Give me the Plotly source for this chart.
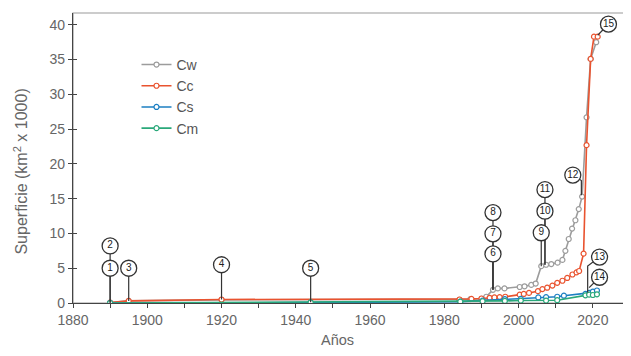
import plotly.graph_objects as go

# ---------------- data ----------------
cw_years = [1890, 1895, 1920, 1984, 1987, 1990.0, 1991.3, 1993.1, 1994.4, 1996.2, 2000.3, 2001.6,
            2003.4, 2004.6, 2006.1, 2007.4, 2008.8, 2010.5, 2011.8, 2012.6, 2013.5, 2014.4,
            2015.3, 2016.2, 2017.1, 2018.3, 2019.4, 2020.9]
cw_values = [0.05, 0.3, 0.45, 0.45, 0.55, 0.6, 0.9, 1.9, 2.1, 2.1, 2.3, 2.4,
             2.6, 2.8, 5.3, 5.5, 5.6, 5.8, 6.2, 7.5, 9.2, 10.7,
             11.9, 13.5, 15.3, 26.7, 35.1, 37.5]

cc_years = [1890, 1895, 1920, 1984.1, 1987.3, 1990.0, 1992.2, 1993.5, 1994.9, 1996.4, 2000.3,
            2001.4, 2002.8, 2005.2, 2006.4, 2007.7, 2009.1, 2010.4, 2011.8, 2013.1, 2014.5,
            2015.6, 2016.3, 2017.5, 2018.3, 2019.4, 2020.3, 2021.3]
cc_values = [0.05, 0.3, 0.5, 0.5, 0.6, 0.65, 0.75, 0.8, 0.85, 0.9, 1.2,
             1.3, 1.45, 1.7, 2.0, 2.2, 2.5, 2.9, 3.2, 3.6, 4.1,
             4.4, 4.6, 7.1, 22.7, 35.1, 38.3, 38.3]

cs_years = [1890, 1944, 1984.3, 1990.3, 1996.3, 2000.6, 2005.3, 2007.4, 2010.4, 2012.2,
            2018.0, 2019.0, 2020.0, 2021.1]
cs_values = [0.0, 0.05, 0.2, 0.35, 0.55, 0.6, 0.8, 0.85, 0.9, 1.05,
             1.3, 1.45, 1.65, 1.8]

cm_years = [1890, 1944, 1984.3, 1990.3, 1996.3, 2000.6, 2007.4, 2010.4,
            2018.0, 2019.0, 2020.0, 2021.1]
cm_values = [0.0, 0.1, 0.2, 0.25, 0.3, 0.35, 0.35, 0.4,
             1.1, 1.2, 1.15, 1.25]

series_names = ["Cw", "Cc", "Cs", "Cm"]
series_colors = ["#9c9c9c", "#e9532f", "#1c7fc2", "#2aa87a"]

# callouts: label, circle position, optional elbow, anchor point on the data
callout_labels = ["1", "2", "3", "4", "5", "6", "7", "8", "9", "10", "11", "12", "13", "14", "15"]
callout_x = [1890, 1890, 1895, 1920, 1944, 1993.1, 1993.1, 1993.1, 2006.1, 2007.1, 2007.1,
             2014.6, 2021.8, 2021.8, 2024.2]
callout_y = [5.0, 8.2, 5.0, 5.5, 5.0, 7.05, 9.95, 13.0, 10.1, 13.2, 16.3,
             18.4, 6.6, 3.7, 40.1]
elbow_x = [None, None, None, None, None, None, None, None, None, None, None,
           2016.9, 2018.6, None, None]
elbow_y = [None, None, None, None, None, None, None, None, None, None, None,
           17.6, 5.3, None, None]
anchor_x = [1890, 1890, 1895, 1920, 1944, 1993.1, 1993.1, 1993.1, 2006.1, 2007.1, 2007.1,
            2016.9, 2018.6, 2019.0, 2021.3]
anchor_y = [0.05, 0.05, 0.3, 0.5, 0.1, 1.9, 1.9, 1.9, 5.3, 5.5, 5.5,
            15.5, 1.5, 2.2, 38.5]

x_range = [1880, 2030]
y_range = [0, 41.7]

# ---------------- figure ----------------
fig = go.Figure()

all_x = [cw_years, cc_years, cs_years, cm_years]
all_y = [cw_values, cc_values, cs_values, cm_values]
for name, color, xs, ys in zip(series_names, series_colors, all_x, all_y):
    fig.add_trace(go.Scatter(
        x=xs, y=ys, name=name, mode="lines+markers",
        line=dict(color=color, width=1.6),
        marker=dict(symbol="circle", size=5, color="white",
                    line=dict(color=color, width=1.2)),
    ))

# leader lines
lx, ly = [], []
for cx, cy, ex, ey, ax, ay in zip(callout_x, callout_y, elbow_x, elbow_y, anchor_x, anchor_y):
    lx.append(cx); ly.append(cy)
    if ex is not None:
        lx.append(ex); ly.append(ey)
    lx.append(ax); ly.append(ay)
    lx.append(None); ly.append(None)
fig.add_trace(go.Scatter(x=lx, y=ly, mode="lines", line=dict(color="#333333", width=1.2),
                         showlegend=False, hoverinfo="skip"))

# numbered circles
fig.add_trace(go.Scatter(
    x=callout_x, y=callout_y, mode="markers+text", text=callout_labels,
    textposition="middle center",
    textfont=dict(family="Liberation Sans, Arial, sans-serif", size=10, color="#222222"),
    marker=dict(symbol="circle", size=16, color="white", line=dict(color="#333333", width=1.3)),
    showlegend=False, hoverinfo="skip", cliponaxis=False,
))

# dummy trace to host the inner-tick overlay axis
fig.add_trace(go.Scatter(x=[None], y=[None], yaxis="y2", showlegend=False, hoverinfo="skip"))

font_family = "Liberation Sans, Arial, Helvetica, sans-serif"

# page body has an 8px default margin, so the figure is drawn 8px smaller
fig.update_layout(
    width=623, height=348,
    margin=dict(l=65, r=1, t=5, b=53, autoexpand=False),
    paper_bgcolor="white", plot_bgcolor="white",
    font=dict(family=font_family, color="#666666"),
    showlegend=True,
    legend=dict(x=0.114, y=0.876, xanchor="left", yanchor="top",
                font=dict(size=14, color="#555555"), bgcolor="rgba(0,0,0,0)",
                itemwidth=30, tracegroupgap=0),
    xaxis=dict(range=x_range, tick0=1880, dtick=20, ticks="outside", ticklen=4,
               tickcolor="#444444", tickwidth=1.2, showline=True, linecolor="#444444",
               linewidth=1.3, showgrid=False, zeroline=False, automargin=False,
               tickfont=dict(size=14, color="#666666"),
               minor=dict(dtick=10, tick0=1880, ticks="outside", ticklen=4,
                          tickcolor="#444444", tickwidth=1.2, showgrid=False)),
    yaxis=dict(range=y_range, tick0=0, dtick=5, ticks="outside", ticklen=4,
               tickcolor="#444444", tickwidth=1.2, showline=True, linecolor="#444444",
               linewidth=1.3, showgrid=False, zeroline=False, automargin=False,
               tickfont=dict(size=14, color="#666666")),
    yaxis2=dict(range=y_range, overlaying="y", side="left", tick0=0, dtick=5,
                ticks="inside", ticklen=4, tickcolor="#444444", tickwidth=1.2,
                showticklabels=False, showline=False, showgrid=False, zeroline=False,
                automargin=False),
    shapes=[dict(type="rect", xref="paper", yref="paper", x0=0, y0=0, x1=1, y1=1,
                 line=dict(color="#999999", width=1.2), layer="below")],
    annotations=[
        dict(text="Superficie (km<sup>2</sup> x 1000)", xref="paper", yref="paper",
             x=-0.094, y=0.452, textangle=-90, showarrow=False,
             xanchor="center", yanchor="middle",
             font=dict(size=16, color="#666666")),
        dict(text="Años", xref="paper", yref="paper", x=0.474, y=-0.128,
             showarrow=False, xanchor="center", yanchor="middle",
             font=dict(size=14.5, color="#666666")),
    ],
)

fig.write_html("out.html")
